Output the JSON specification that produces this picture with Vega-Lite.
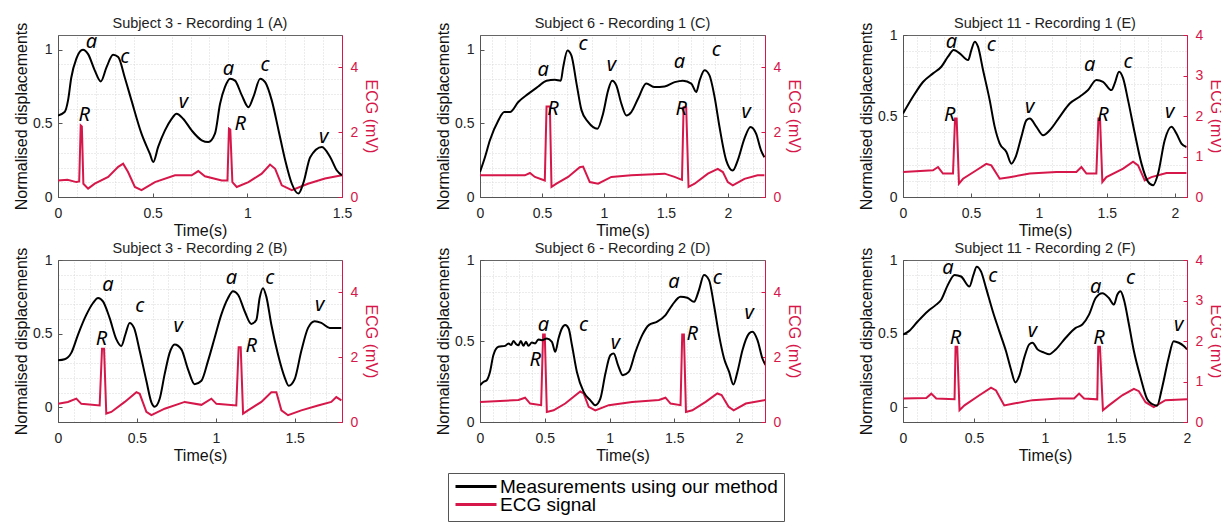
{
"$schema": "https://vega.github.io/schema/vega-lite/v6.json",
"padding": {"left": 13, "top": 15, "right": 0, "bottom": 0},
"columns": 3,
"spacing": {"row": 63, "column": 138},
"bounds": "flush",
"datasets": {
"dA": [{"t":0,"v":0.554},{"t":0.035,"v":0.577},{"t":0.053,"v":0.656},{"t":0.07,"v":0.81},{"t":0.097,"v":0.94},{"t":0.132,"v":1.0},{"t":0.159,"v":0.97},{"t":0.194,"v":0.86},{"t":0.226,"v":0.785},{"t":0.256,"v":0.88},{"t":0.291,"v":0.966},{"t":0.318,"v":0.95},{"t":0.353,"v":0.81},{"t":0.388,"v":0.656},{"t":0.441,"v":0.43},{"t":0.485,"v":0.294},{"t":0.503,"v":0.238},{"t":0.529,"v":0.34},{"t":0.565,"v":0.452},{"t":0.6,"v":0.53},{"t":0.626,"v":0.566},{"t":0.662,"v":0.53},{"t":0.706,"v":0.452},{"t":0.759,"v":0.385},{"t":0.794,"v":0.373},{"t":0.829,"v":0.43},{"t":0.856,"v":0.633},{"t":0.882,"v":0.747},{"t":0.909,"v":0.803},{"t":0.935,"v":0.79},{"t":0.971,"v":0.69},{"t":1.006,"v":0.61},{"t":1.032,"v":0.68},{"t":1.068,"v":0.803},{"t":1.094,"v":0.78},{"t":1.129,"v":0.656},{"t":1.165,"v":0.452},{"t":1.2,"v":0.249},{"t":1.235,"v":0.09},{"t":1.27,"v":0.023},{"t":1.297,"v":0.1},{"t":1.332,"v":0.27},{"t":1.394,"v":0.34},{"t":1.438,"v":0.27},{"t":1.473,"v":0.18},{"t":1.5,"v":0.147}],
"eA": [{"t":0,"mv":0.51},{"t":0.05,"mv":0.53},{"t":0.097,"mv":0.46},{"t":0.112,"mv":0.48},{"t":0.12,"mv":2.21},{"t":0.126,"mv":2.18},{"t":0.134,"mv":0.41},{"t":0.159,"mv":0.26},{"t":0.194,"mv":0.41},{"t":0.265,"mv":0.62},{"t":0.318,"mv":0.93},{"t":0.344,"mv":1.03},{"t":0.37,"mv":0.77},{"t":0.406,"mv":0.31},{"t":0.441,"mv":0.21},{"t":0.512,"mv":0.46},{"t":0.618,"mv":0.67},{"t":0.706,"mv":0.67},{"t":0.741,"mv":0.8},{"t":0.776,"mv":0.64},{"t":0.865,"mv":0.51},{"t":0.895,"mv":0.51},{"t":0.903,"mv":2.11},{"t":0.91,"mv":2.08},{"t":0.921,"mv":0.46},{"t":0.944,"mv":0.31},{"t":1.006,"mv":0.46},{"t":1.076,"mv":0.72},{"t":1.12,"mv":1.0},{"t":1.147,"mv":0.87},{"t":1.182,"mv":0.36},{"t":1.235,"mv":0.21},{"t":1.32,"mv":0.41},{"t":1.41,"mv":0.57},{"t":1.5,"mv":0.67}],
"lA": [{"t":0.176,"v":1.05,"s":"a"},{"t":0.353,"v":0.95,"s":"c"},{"t":0.662,"v":0.645,"s":"v"},{"t":0.138,"v":0.554,"s":"R"},{"t":0.9,"v":0.87,"s":"a"},{"t":1.094,"v":0.894,"s":"c"},{"t":0.962,"v":0.498,"s":"R"},{"t":1.403,"v":0.407,"s":"v"}],
"dC": [{"t":0,"v":0.17},{"t":0.04,"v":0.27},{"t":0.08,"v":0.385},{"t":0.148,"v":0.52},{"t":0.196,"v":0.577},{"t":0.242,"v":0.577},{"t":0.309,"v":0.645},{"t":0.389,"v":0.7},{"t":0.47,"v":0.75},{"t":0.537,"v":0.79},{"t":0.604,"v":0.796},{"t":0.652,"v":0.79},{"t":0.671,"v":0.88},{"t":0.706,"v":0.995},{"t":0.738,"v":0.96},{"t":0.779,"v":0.77},{"t":0.819,"v":0.59},{"t":0.872,"v":0.51},{"t":0.948,"v":0.464},{"t":0.993,"v":0.566},{"t":1.034,"v":0.724},{"t":1.066,"v":0.79},{"t":1.1,"v":0.758},{"t":1.141,"v":0.633},{"t":1.181,"v":0.554},{"t":1.221,"v":0.577},{"t":1.275,"v":0.667},{"t":1.342,"v":0.77},{"t":1.409,"v":0.747},{"t":1.49,"v":0.751},{"t":1.571,"v":0.78},{"t":1.638,"v":0.79},{"t":1.705,"v":0.77},{"t":1.745,"v":0.713},{"t":1.772,"v":0.79},{"t":1.812,"v":0.86},{"t":1.852,"v":0.826},{"t":1.893,"v":0.68},{"t":1.933,"v":0.475},{"t":1.987,"v":0.249},{"t":2.04,"v":0.18},{"t":2.08,"v":0.249},{"t":2.134,"v":0.396},{"t":2.183,"v":0.475},{"t":2.228,"v":0.43},{"t":2.268,"v":0.317},{"t":2.295,"v":0.27}],
"eC": [{"t":0,"mv":0.67},{"t":0.362,"mv":0.67},{"t":0.403,"mv":0.74},{"t":0.443,"mv":0.62},{"t":0.523,"mv":0.51},{"t":0.537,"mv":2.79},{"t":0.564,"mv":2.79},{"t":0.577,"mv":0.31},{"t":0.617,"mv":0.41},{"t":0.711,"mv":0.62},{"t":0.805,"mv":0.92},{"t":0.832,"mv":0.94},{"t":0.886,"mv":0.46},{"t":0.953,"mv":0.41},{"t":1.06,"mv":0.62},{"t":1.22,"mv":0.67},{"t":1.49,"mv":0.72},{"t":1.57,"mv":0.62},{"t":1.63,"mv":0.53},{"t":1.643,"mv":2.77},{"t":1.664,"mv":2.77},{"t":1.683,"mv":0.31},{"t":1.732,"mv":0.41},{"t":1.839,"mv":0.72},{"t":1.919,"mv":0.87},{"t":1.96,"mv":0.77},{"t":2.0,"mv":0.46},{"t":2.04,"mv":0.36},{"t":2.134,"mv":0.56},{"t":2.24,"mv":0.67},{"t":2.295,"mv":0.67}],
"lC": [{"t":0.51,"v":0.86,"s":"a"},{"t":0.832,"v":1.04,"s":"c"},{"t":1.06,"v":0.894,"s":"v"},{"t":0.59,"v":0.6,"s":"R"},{"t":1.61,"v":0.916,"s":"a"},{"t":1.906,"v":0.995,"s":"c"},{"t":1.624,"v":0.6,"s":"R"},{"t":2.148,"v":0.577,"s":"v"}],
"dE": [{"t":0,"v":0.515},{"t":0.074,"v":0.62},{"t":0.147,"v":0.71},{"t":0.221,"v":0.763},{"t":0.282,"v":0.804},{"t":0.331,"v":0.866},{"t":0.373,"v":0.907},{"t":0.417,"v":0.887},{"t":0.479,"v":0.845},{"t":0.503,"v":0.907},{"t":0.528,"v":0.959},{"t":0.552,"v":0.928},{"t":0.589,"v":0.784},{"t":0.638,"v":0.598},{"t":0.675,"v":0.433},{"t":0.712,"v":0.33},{"t":0.761,"v":0.278},{"t":0.798,"v":0.206},{"t":0.829,"v":0.247},{"t":0.871,"v":0.371},{"t":0.908,"v":0.474},{"t":0.933,"v":0.485},{"t":0.982,"v":0.433},{"t":1.031,"v":0.381},{"t":1.08,"v":0.412},{"t":1.153,"v":0.495},{"t":1.227,"v":0.577},{"t":1.3,"v":0.619},{"t":1.362,"v":0.66},{"t":1.423,"v":0.722},{"t":1.472,"v":0.711},{"t":1.534,"v":0.66},{"t":1.558,"v":0.701},{"t":1.59,"v":0.773},{"t":1.62,"v":0.732},{"t":1.656,"v":0.598},{"t":1.706,"v":0.392},{"t":1.755,"v":0.206},{"t":1.804,"v":0.093},{"t":1.84,"v":0.072},{"t":1.877,"v":0.144},{"t":1.926,"v":0.35},{"t":1.975,"v":0.433},{"t":2.012,"v":0.392},{"t":2.049,"v":0.33},{"t":2.086,"v":0.309}],
"eE": [{"t":0,"mv":0.62},{"t":0.221,"mv":0.66},{"t":0.258,"mv":0.74},{"t":0.294,"mv":0.58},{"t":0.368,"mv":0.58},{"t":0.383,"mv":1.94},{"t":0.395,"mv":1.94},{"t":0.412,"mv":0.33},{"t":0.442,"mv":0.45},{"t":0.54,"mv":0.66},{"t":0.613,"mv":0.82},{"t":0.65,"mv":0.78},{"t":0.712,"mv":0.45},{"t":0.785,"mv":0.49},{"t":0.933,"mv":0.58},{"t":1.129,"mv":0.62},{"t":1.276,"mv":0.62},{"t":1.313,"mv":0.74},{"t":1.35,"mv":0.58},{"t":1.423,"mv":0.58},{"t":1.438,"mv":1.94},{"t":1.45,"mv":1.94},{"t":1.467,"mv":0.37},{"t":1.497,"mv":0.49},{"t":1.62,"mv":0.7},{"t":1.693,"mv":0.87},{"t":1.73,"mv":0.78},{"t":1.779,"mv":0.41},{"t":1.828,"mv":0.49},{"t":1.939,"mv":0.59},{"t":2.086,"mv":0.59}],
"lE": [{"t":0.356,"v":0.959,"s":"a"},{"t":0.65,"v":0.938,"s":"c"},{"t":0.933,"v":0.557,"s":"v"},{"t":0.344,"v":0.505,"s":"R"},{"t":1.374,"v":0.814,"s":"a"},{"t":1.656,"v":0.835,"s":"c"},{"t":1.472,"v":0.505,"s":"R"},{"t":1.963,"v":0.526,"s":"v"}],
"dB": [{"t":0,"v":0.319},{"t":0.042,"v":0.326},{"t":0.085,"v":0.371},{"t":0.127,"v":0.494},{"t":0.18,"v":0.629},{"t":0.222,"v":0.708},{"t":0.254,"v":0.742},{"t":0.285,"v":0.719},{"t":0.327,"v":0.607},{"t":0.37,"v":0.461},{"t":0.401,"v":0.416},{"t":0.427,"v":0.494},{"t":0.454,"v":0.573},{"t":0.482,"v":0.539},{"t":0.518,"v":0.382},{"t":0.56,"v":0.18},{"t":0.592,"v":0.034},{"t":0.613,"v":0.004},{"t":0.644,"v":0.056},{"t":0.676,"v":0.225},{"t":0.708,"v":0.371},{"t":0.739,"v":0.427},{"t":0.782,"v":0.393},{"t":0.824,"v":0.258},{"t":0.866,"v":0.157},{"t":0.909,"v":0.18},{"t":0.951,"v":0.315},{"t":0.993,"v":0.472},{"t":1.035,"v":0.629},{"t":1.078,"v":0.742},{"t":1.109,"v":0.787},{"t":1.141,"v":0.764},{"t":1.183,"v":0.652},{"t":1.225,"v":0.566},{"t":1.257,"v":0.593},{"t":1.278,"v":0.742},{"t":1.299,"v":0.809},{"t":1.32,"v":0.753},{"t":1.352,"v":0.562},{"t":1.394,"v":0.36},{"t":1.437,"v":0.202},{"t":1.462,"v":0.146},{"t":1.5,"v":0.191},{"t":1.542,"v":0.382},{"t":1.585,"v":0.539},{"t":1.627,"v":0.584},{"t":1.669,"v":0.573},{"t":1.722,"v":0.539},{"t":1.796,"v":0.539}],
"eB": [{"t":0,"mv":0.56},{"t":0.063,"mv":0.62},{"t":0.116,"mv":0.72},{"t":0.148,"mv":0.56},{"t":0.264,"mv":0.51},{"t":0.279,"mv":2.26},{"t":0.292,"mv":2.26},{"t":0.306,"mv":0.26},{"t":0.338,"mv":0.31},{"t":0.423,"mv":0.62},{"t":0.497,"mv":0.92},{"t":0.518,"mv":0.87},{"t":0.56,"mv":0.31},{"t":0.592,"mv":0.21},{"t":0.676,"mv":0.41},{"t":0.803,"mv":0.62},{"t":0.909,"mv":0.53},{"t":0.972,"mv":0.72},{"t":1.004,"mv":0.56},{"t":1.13,"mv":0.51},{"t":1.145,"mv":2.31},{"t":1.158,"mv":2.31},{"t":1.173,"mv":0.26},{"t":1.204,"mv":0.36},{"t":1.289,"mv":0.62},{"t":1.352,"mv":0.92},{"t":1.384,"mv":0.92},{"t":1.416,"mv":0.36},{"t":1.458,"mv":0.21},{"t":1.542,"mv":0.36},{"t":1.648,"mv":0.51},{"t":1.732,"mv":0.62},{"t":1.764,"mv":0.77},{"t":1.796,"mv":0.67}],
"lB": [{"t":0.317,"v":0.831,"s":"a"},{"t":0.518,"v":0.685,"s":"c"},{"t":0.761,"v":0.55,"s":"v"},{"t":0.275,"v":0.461,"s":"R"},{"t":1.099,"v":0.876,"s":"a"},{"t":1.342,"v":0.876,"s":"c"},{"t":1.225,"v":0.416,"s":"R"},{"t":1.658,"v":0.697,"s":"v"}],
"dD": [{"t":0,"v":0.227},{"t":0.026,"v":0.247},{"t":0.052,"v":0.258},{"t":0.077,"v":0.309},{"t":0.103,"v":0.412},{"t":0.142,"v":0.464},{"t":0.194,"v":0.47},{"t":0.22,"v":0.485},{"t":0.24,"v":0.475},{"t":0.258,"v":0.5},{"t":0.28,"v":0.48},{"t":0.297,"v":0.474},{"t":0.315,"v":0.5},{"t":0.335,"v":0.47},{"t":0.355,"v":0.495},{"t":0.374,"v":0.47},{"t":0.4,"v":0.49},{"t":0.426,"v":0.485},{"t":0.45,"v":0.51},{"t":0.477,"v":0.505},{"t":0.516,"v":0.515},{"t":0.555,"v":0.495},{"t":0.581,"v":0.433},{"t":0.606,"v":0.515},{"t":0.632,"v":0.577},{"t":0.658,"v":0.598},{"t":0.684,"v":0.577},{"t":0.71,"v":0.474},{"t":0.748,"v":0.309},{"t":0.8,"v":0.186},{"t":0.852,"v":0.134},{"t":0.89,"v":0.103},{"t":0.929,"v":0.144},{"t":0.968,"v":0.299},{"t":1.006,"v":0.412},{"t":1.032,"v":0.423},{"t":1.066,"v":0.35},{"t":1.102,"v":0.289},{"t":1.148,"v":0.309},{"t":1.2,"v":0.433},{"t":1.252,"v":0.536},{"t":1.303,"v":0.598},{"t":1.368,"v":0.619},{"t":1.432,"v":0.66},{"t":1.484,"v":0.722},{"t":1.548,"v":0.773},{"t":1.6,"v":0.767},{"t":1.652,"v":0.742},{"t":1.69,"v":0.814},{"t":1.729,"v":0.907},{"t":1.768,"v":0.876},{"t":1.806,"v":0.722},{"t":1.845,"v":0.536},{"t":1.884,"v":0.392},{"t":1.923,"v":0.309},{"t":1.956,"v":0.231},{"t":1.987,"v":0.309},{"t":2.026,"v":0.443},{"t":2.077,"v":0.546},{"t":2.103,"v":0.557},{"t":2.142,"v":0.505},{"t":2.18,"v":0.392},{"t":2.206,"v":0.35}],
"eD": [{"t":0,"mv":0.62},{"t":0.297,"mv":0.68},{"t":0.348,"mv":0.75},{"t":0.387,"mv":0.57},{"t":0.472,"mv":0.52},{"t":0.487,"mv":2.7},{"t":0.5,"mv":2.7},{"t":0.516,"mv":0.31},{"t":0.568,"mv":0.36},{"t":0.658,"mv":0.57},{"t":0.774,"mv":0.94},{"t":0.8,"mv":0.88},{"t":0.839,"mv":0.47},{"t":0.89,"mv":0.36},{"t":0.994,"mv":0.52},{"t":1.174,"mv":0.62},{"t":1.381,"mv":0.68},{"t":1.432,"mv":0.75},{"t":1.471,"mv":0.57},{"t":1.548,"mv":0.52},{"t":1.561,"mv":2.7},{"t":1.574,"mv":2.7},{"t":1.59,"mv":0.31},{"t":1.639,"mv":0.36},{"t":1.742,"mv":0.62},{"t":1.832,"mv":0.88},{"t":1.865,"mv":0.83},{"t":1.919,"mv":0.47},{"t":1.958,"mv":0.36},{"t":2.052,"mv":0.57},{"t":2.206,"mv":0.68}],
"lD": [{"t":0.49,"v":0.598,"s":"a"},{"t":0.8,"v":0.598,"s":"c"},{"t":1.045,"v":0.485,"s":"v"},{"t":0.426,"v":0.381,"s":"R"},{"t":1.497,"v":0.866,"s":"a"},{"t":1.832,"v":0.887,"s":"c"},{"t":1.639,"v":0.546,"s":"R"},{"t":2.077,"v":0.67,"s":"v"}],
"dF": [{"t":0,"v":0.494},{"t":0.042,"v":0.517},{"t":0.105,"v":0.584},{"t":0.175,"v":0.652},{"t":0.234,"v":0.697},{"t":0.269,"v":0.73},{"t":0.316,"v":0.831},{"t":0.363,"v":0.899},{"t":0.409,"v":0.888},{"t":0.468,"v":0.82},{"t":0.496,"v":0.899},{"t":0.519,"v":0.955},{"t":0.55,"v":0.921},{"t":0.585,"v":0.809},{"t":0.632,"v":0.652},{"t":0.678,"v":0.517},{"t":0.725,"v":0.382},{"t":0.76,"v":0.258},{"t":0.791,"v":0.169},{"t":0.819,"v":0.213},{"t":0.854,"v":0.337},{"t":0.889,"v":0.427},{"t":0.912,"v":0.438},{"t":0.947,"v":0.393},{"t":0.994,"v":0.371},{"t":1.029,"v":0.36},{"t":1.076,"v":0.393},{"t":1.146,"v":0.472},{"t":1.216,"v":0.539},{"t":1.263,"v":0.562},{"t":1.31,"v":0.629},{"t":1.357,"v":0.742},{"t":1.404,"v":0.775},{"t":1.45,"v":0.742},{"t":1.485,"v":0.697},{"t":1.509,"v":0.764},{"t":1.532,"v":0.787},{"t":1.556,"v":0.73},{"t":1.591,"v":0.562},{"t":1.626,"v":0.382},{"t":1.673,"v":0.202},{"t":1.719,"v":0.056},{"t":1.754,"v":0.022},{"t":1.789,"v":0.011},{"t":1.825,"v":0.135},{"t":1.871,"v":0.337},{"t":1.906,"v":0.449},{"t":1.942,"v":0.438},{"t":1.977,"v":0.416},{"t":2.0,"v":0.393}],
"eF": [{"t":0,"mv":0.58},{"t":0.164,"mv":0.59},{"t":0.199,"mv":0.7},{"t":0.234,"mv":0.58},{"t":0.363,"mv":0.56},{"t":0.37,"mv":1.86},{"t":0.382,"mv":1.86},{"t":0.398,"mv":0.29},{"t":0.433,"mv":0.41},{"t":0.538,"mv":0.66},{"t":0.62,"mv":0.85},{"t":0.655,"mv":0.78},{"t":0.713,"mv":0.41},{"t":0.772,"mv":0.45},{"t":0.912,"mv":0.54},{"t":1.099,"mv":0.58},{"t":1.205,"mv":0.58},{"t":1.24,"mv":0.7},{"t":1.275,"mv":0.58},{"t":1.368,"mv":0.56},{"t":1.375,"mv":1.86},{"t":1.387,"mv":1.86},{"t":1.408,"mv":0.29},{"t":1.45,"mv":0.41},{"t":1.544,"mv":0.66},{"t":1.626,"mv":0.82},{"t":1.661,"mv":0.76},{"t":1.708,"mv":0.49},{"t":1.766,"mv":0.37},{"t":1.848,"mv":0.54},{"t":2.0,"mv":0.56}],
"lF": [{"t":0.316,"v":0.944,"s":"a"},{"t":0.632,"v":0.888,"s":"c"},{"t":0.912,"v":0.517,"s":"v"},{"t":0.37,"v":0.472,"s":"R"},{"t":1.357,"v":0.82,"s":"a"},{"t":1.602,"v":0.876,"s":"c"},{"t":1.38,"v":0.472,"s":"R"},{"t":1.942,"v":0.562,"s":"v"}]
},
"concat": [
{"width": 284, "height": 162, "title": "Subject 3 - Recording 1 (A)",
 "layer": [
  {"data": {"name": "eA"}, "mark": {"type": "line", "strokeWidth": 2, "clip": true},
   "encoding": {"x": {"field": "t", "type": "quantitative", "scale": {"domain": [0, 1.5], "nice": false, "zero": false}, "axis": null},
    "y": {"field": "mv", "type": "quantitative", "scale": {"domain": [0, 5], "nice": false, "zero": false}, "axis": {"orient": "right", "title": "ECG (mV)", "values": [0, 2, 4]}},
    "color": {"datum": "ECG signal", "type": "nominal", "scale": {"domain": ["Measurements using our method", "ECG signal"], "range": ["#000000", "#d6174a"]}, "legend": {"orient": "none", "legendX": 390, "legendY": 438, "title": null}}}},
  {"data": {"name": "dA"}, "mark": {"type": "line", "strokeWidth": 2, "interpolate": "monotone", "clip": true},
   "encoding": {"x": {"field": "t", "type": "quantitative", "scale": {"domain": [0, 1.5], "nice": false, "zero": false}, "axis": {"orient": "bottom", "title": "Time(s)", "values": [0, 0.5, 1, 1.5], "format": "~g"}},
    "y": {"field": "v", "type": "quantitative", "scale": {"domain": [0, 1.1], "nice": false, "zero": false}, "axis": {"orient": "left", "title": "Normalised displacements", "values": [0, 0.5, 1], "format": "~g"}},
    "color": {"datum": "Measurements using our method", "type": "nominal", "scale": {"domain": ["Measurements using our method", "ECG signal"], "range": ["#000000", "#d6174a"]}, "legend": {"orient": "none", "legendX": 390, "legendY": 438, "title": null}}}},
  {"data": {"name": "lA"}, "mark": {"type": "text", "font": "Noto Sans", "fontStyle": "italic", "fontSize": 20, "color": "#000000", "align": "center", "baseline": "middle"},
   "encoding": {"x": {"field": "t", "type": "quantitative", "scale": {"domain": [0, 1.5], "nice": false, "zero": false}, "axis": {"orient": "top", "values": [0.1,0.2,0.3,0.4,0.6,0.7,0.8,0.9,1.1,1.2,1.3,1.4], "labels": false, "ticks": false, "domain": false, "title": null, "grid": true, "gridDash": [1, 2]}},
    "y": {"field": "v", "type": "quantitative", "scale": {"domain": [0, 1.1], "nice": false, "zero": false}, "axis": {"orient": "left", "values": [0.1,0.2,0.3,0.4,0.6,0.7,0.8,0.9], "labels": false, "ticks": false, "domain": false, "title": null, "grid": true, "gridDash": [1, 2]}},
    "text": {"field": "s"}}}
 ],
 "resolve": {"scale": {"x": "independent", "y": "independent"}}},
{"width": 285, "height": 162, "title": "Subject 6 - Recording 1 (C)",
 "layer": [
  {"data": {"name": "eC"}, "mark": {"type": "line", "strokeWidth": 2, "clip": true},
   "encoding": {"x": {"field": "t", "type": "quantitative", "scale": {"domain": [0, 2.3], "nice": false, "zero": false}, "axis": null},
    "y": {"field": "mv", "type": "quantitative", "scale": {"domain": [0, 5], "nice": false, "zero": false}, "axis": {"orient": "right", "title": "ECG (mV)", "values": [0, 2, 4]}},
    "color": {"datum": "ECG signal", "type": "nominal", "scale": {"domain": ["Measurements using our method", "ECG signal"], "range": ["#000000", "#d6174a"]}, "legend": {"orient": "none", "legendX": 390, "legendY": 438, "title": null}}}},
  {"data": {"name": "dC"}, "mark": {"type": "line", "strokeWidth": 2, "interpolate": "monotone", "clip": true},
   "encoding": {"x": {"field": "t", "type": "quantitative", "scale": {"domain": [0, 2.3], "nice": false, "zero": false}, "axis": {"orient": "bottom", "title": "Time(s)", "values": [0, 0.5, 1, 1.5, 2], "format": "~g"}},
    "y": {"field": "v", "type": "quantitative", "scale": {"domain": [0, 1.1], "nice": false, "zero": false}, "axis": {"orient": "left", "title": "Normalised displacements", "values": [0, 0.5, 1], "format": "~g"}},
    "color": {"datum": "Measurements using our method", "type": "nominal", "scale": {"domain": ["Measurements using our method", "ECG signal"], "range": ["#000000", "#d6174a"]}, "legend": {"orient": "none", "legendX": 390, "legendY": 438, "title": null}}}},
  {"data": {"name": "lC"}, "mark": {"type": "text", "font": "Noto Sans", "fontStyle": "italic", "fontSize": 20, "color": "#000000", "align": "center", "baseline": "middle"},
   "encoding": {"x": {"field": "t", "type": "quantitative", "scale": {"domain": [0, 2.3], "nice": false, "zero": false}, "axis": {"orient": "top", "values": [0.1,0.2,0.3,0.4,0.6,0.7,0.8,0.9,1.1,1.2,1.3,1.4,1.6,1.7,1.8,1.9,2.1,2.2], "labels": false, "ticks": false, "domain": false, "title": null, "grid": true, "gridDash": [1, 2]}},
    "y": {"field": "v", "type": "quantitative", "scale": {"domain": [0, 1.1], "nice": false, "zero": false}, "axis": {"orient": "left", "values": [0.1,0.2,0.3,0.4,0.6,0.7,0.8,0.9], "labels": false, "ticks": false, "domain": false, "title": null, "grid": true, "gridDash": [1, 2]}},
    "text": {"field": "s"}}}
 ],
 "resolve": {"scale": {"x": "independent", "y": "independent"}}},
{"width": 284, "height": 162, "title": "Subject 11 - Recording 1 (E)",
 "layer": [
  {"data": {"name": "eE"}, "mark": {"type": "line", "strokeWidth": 2, "clip": true},
   "encoding": {"x": {"field": "t", "type": "quantitative", "scale": {"domain": [0, 2.09], "nice": false, "zero": false}, "axis": null},
    "y": {"field": "mv", "type": "quantitative", "scale": {"domain": [0, 4], "nice": false, "zero": false}, "axis": {"orient": "right", "title": "ECG (mV)", "values": [0, 1, 2, 3, 4]}},
    "color": {"datum": "ECG signal", "type": "nominal", "scale": {"domain": ["Measurements using our method", "ECG signal"], "range": ["#000000", "#d6174a"]}, "legend": {"orient": "none", "legendX": 390, "legendY": 438, "title": null}}}},
  {"data": {"name": "dE"}, "mark": {"type": "line", "strokeWidth": 2, "interpolate": "monotone", "clip": true},
   "encoding": {"x": {"field": "t", "type": "quantitative", "scale": {"domain": [0, 2.09], "nice": false, "zero": false}, "axis": {"orient": "bottom", "title": "Time(s)", "values": [0, 0.5, 1, 1.5, 2], "format": "~g"}},
    "y": {"field": "v", "type": "quantitative", "scale": {"domain": [0, 1], "nice": false, "zero": false}, "axis": {"orient": "left", "title": "Normalised displacements", "values": [0, 0.5, 1], "format": "~g"}},
    "color": {"datum": "Measurements using our method", "type": "nominal", "scale": {"domain": ["Measurements using our method", "ECG signal"], "range": ["#000000", "#d6174a"]}, "legend": {"orient": "none", "legendX": 390, "legendY": 438, "title": null}}}},
  {"data": {"name": "lE"}, "mark": {"type": "text", "font": "Noto Sans", "fontStyle": "italic", "fontSize": 20, "color": "#000000", "align": "center", "baseline": "middle"},
   "encoding": {"x": {"field": "t", "type": "quantitative", "scale": {"domain": [0, 2.09], "nice": false, "zero": false}, "axis": {"orient": "top", "values": [0.1,0.2,0.3,0.4,0.6,0.7,0.8,0.9,1.1,1.2,1.3,1.4,1.6,1.7,1.8,1.9], "labels": false, "ticks": false, "domain": false, "title": null, "grid": true, "gridDash": [1, 2]}},
    "y": {"field": "v", "type": "quantitative", "scale": {"domain": [0, 1], "nice": false, "zero": false}, "axis": {"orient": "left", "values": [0.1,0.2,0.3,0.4,0.6,0.7,0.8,0.9], "labels": false, "ticks": false, "domain": false, "title": null, "grid": true, "gridDash": [1, 2]}},
    "text": {"field": "s"}}}
 ],
 "resolve": {"scale": {"x": "independent", "y": "independent"}}},
{"width": 284, "height": 162, "title": "Subject 3 - Recording 2 (B)",
 "layer": [
  {"data": {"name": "eB"}, "mark": {"type": "line", "strokeWidth": 2, "clip": true},
   "encoding": {"x": {"field": "t", "type": "quantitative", "scale": {"domain": [0, 1.8], "nice": false, "zero": false}, "axis": null},
    "y": {"field": "mv", "type": "quantitative", "scale": {"domain": [0, 5], "nice": false, "zero": false}, "axis": {"orient": "right", "title": "ECG (mV)", "values": [0, 2, 4]}},
    "color": {"datum": "ECG signal", "type": "nominal", "scale": {"domain": ["Measurements using our method", "ECG signal"], "range": ["#000000", "#d6174a"]}, "legend": {"orient": "none", "legendX": 390, "legendY": 438, "title": null}}}},
  {"data": {"name": "dB"}, "mark": {"type": "line", "strokeWidth": 2, "interpolate": "monotone", "clip": true},
   "encoding": {"x": {"field": "t", "type": "quantitative", "scale": {"domain": [0, 1.8], "nice": false, "zero": false}, "axis": {"orient": "bottom", "title": "Time(s)", "values": [0, 0.5, 1, 1.5], "format": "~g"}},
    "y": {"field": "v", "type": "quantitative", "scale": {"domain": [-0.1, 1], "nice": false, "zero": false}, "axis": {"orient": "left", "title": "Normalised displacements", "values": [0, 0.5, 1], "format": "~g"}},
    "color": {"datum": "Measurements using our method", "type": "nominal", "scale": {"domain": ["Measurements using our method", "ECG signal"], "range": ["#000000", "#d6174a"]}, "legend": {"orient": "none", "legendX": 390, "legendY": 438, "title": null}}}},
  {"data": {"name": "lB"}, "mark": {"type": "text", "font": "Noto Sans", "fontStyle": "italic", "fontSize": 20, "color": "#000000", "align": "center", "baseline": "middle"},
   "encoding": {"x": {"field": "t", "type": "quantitative", "scale": {"domain": [0, 1.8], "nice": false, "zero": false}, "axis": {"orient": "top", "values": [0.1,0.2,0.3,0.4,0.6,0.7,0.8,0.9,1.1,1.2,1.3,1.4,1.6,1.7], "labels": false, "ticks": false, "domain": false, "title": null, "grid": true, "gridDash": [1, 2]}},
    "y": {"field": "v", "type": "quantitative", "scale": {"domain": [-0.1, 1], "nice": false, "zero": false}, "axis": {"orient": "left", "values": [0.1,0.2,0.3,0.4,0.6,0.7,0.8,0.9], "labels": false, "ticks": false, "domain": false, "title": null, "grid": true, "gridDash": [1, 2]}},
    "text": {"field": "s"}}}
 ],
 "resolve": {"scale": {"x": "independent", "y": "independent"}}},
{"width": 285, "height": 162, "title": "Subject 6 - Recording 2 (D)",
 "layer": [
  {"data": {"name": "eD"}, "mark": {"type": "line", "strokeWidth": 2, "clip": true},
   "encoding": {"x": {"field": "t", "type": "quantitative", "scale": {"domain": [0, 2.2], "nice": false, "zero": false}, "axis": null},
    "y": {"field": "mv", "type": "quantitative", "scale": {"domain": [0, 5], "nice": false, "zero": false}, "axis": {"orient": "right", "title": "ECG (mV)", "values": [0, 2, 4]}},
    "color": {"datum": "ECG signal", "type": "nominal", "scale": {"domain": ["Measurements using our method", "ECG signal"], "range": ["#000000", "#d6174a"]}, "legend": {"orient": "none", "legendX": 390, "legendY": 438, "title": null}}}},
  {"data": {"name": "dD"}, "mark": {"type": "line", "strokeWidth": 2, "interpolate": "monotone", "clip": true},
   "encoding": {"x": {"field": "t", "type": "quantitative", "scale": {"domain": [0, 2.2], "nice": false, "zero": false}, "axis": {"orient": "bottom", "title": "Time(s)", "values": [0, 0.5, 1, 1.5, 2], "format": "~g"}},
    "y": {"field": "v", "type": "quantitative", "scale": {"domain": [0, 1], "nice": false, "zero": false}, "axis": {"orient": "left", "title": "Normalised displacements", "values": [0, 0.5, 1], "format": "~g"}},
    "color": {"datum": "Measurements using our method", "type": "nominal", "scale": {"domain": ["Measurements using our method", "ECG signal"], "range": ["#000000", "#d6174a"]}, "legend": {"orient": "none", "legendX": 390, "legendY": 438, "title": null}}}},
  {"data": {"name": "lD"}, "mark": {"type": "text", "font": "Noto Sans", "fontStyle": "italic", "fontSize": 20, "color": "#000000", "align": "center", "baseline": "middle"},
   "encoding": {"x": {"field": "t", "type": "quantitative", "scale": {"domain": [0, 2.2], "nice": false, "zero": false}, "axis": {"orient": "top", "values": [0.1,0.2,0.3,0.4,0.6,0.7,0.8,0.9,1.1,1.2,1.3,1.4,1.6,1.7,1.8,1.9,2.1], "labels": false, "ticks": false, "domain": false, "title": null, "grid": true, "gridDash": [1, 2]}},
    "y": {"field": "v", "type": "quantitative", "scale": {"domain": [0, 1], "nice": false, "zero": false}, "axis": {"orient": "left", "values": [0.1,0.2,0.3,0.4,0.6,0.7,0.8,0.9], "labels": false, "ticks": false, "domain": false, "title": null, "grid": true, "gridDash": [1, 2]}},
    "text": {"field": "s"}}}
 ],
 "resolve": {"scale": {"x": "independent", "y": "independent"}}},
{"width": 284, "height": 162, "title": "Subject 11 - Recording 2 (F)",
 "layer": [
  {"data": {"name": "eF"}, "mark": {"type": "line", "strokeWidth": 2, "clip": true},
   "encoding": {"x": {"field": "t", "type": "quantitative", "scale": {"domain": [0, 2], "nice": false, "zero": false}, "axis": null},
    "y": {"field": "mv", "type": "quantitative", "scale": {"domain": [0, 4], "nice": false, "zero": false}, "axis": {"orient": "right", "title": "ECG (mV)", "values": [0, 1, 2, 3, 4]}},
    "color": {"datum": "ECG signal", "type": "nominal", "scale": {"domain": ["Measurements using our method", "ECG signal"], "range": ["#000000", "#d6174a"]}, "legend": {"orient": "none", "legendX": 390, "legendY": 438, "title": null}}}},
  {"data": {"name": "dF"}, "mark": {"type": "line", "strokeWidth": 2, "interpolate": "monotone", "clip": true},
   "encoding": {"x": {"field": "t", "type": "quantitative", "scale": {"domain": [0, 2], "nice": false, "zero": false}, "axis": {"orient": "bottom", "title": "Time(s)", "values": [0, 0.5, 1, 1.5, 2], "format": "~g"}},
    "y": {"field": "v", "type": "quantitative", "scale": {"domain": [-0.1, 1], "nice": false, "zero": false}, "axis": {"orient": "left", "title": "Normalised displacements", "values": [0, 0.5, 1], "format": "~g"}},
    "color": {"datum": "Measurements using our method", "type": "nominal", "scale": {"domain": ["Measurements using our method", "ECG signal"], "range": ["#000000", "#d6174a"]}, "legend": {"orient": "none", "legendX": 390, "legendY": 438, "title": null}}}},
  {"data": {"name": "lF"}, "mark": {"type": "text", "font": "Noto Sans", "fontStyle": "italic", "fontSize": 20, "color": "#000000", "align": "center", "baseline": "middle"},
   "encoding": {"x": {"field": "t", "type": "quantitative", "scale": {"domain": [0, 2], "nice": false, "zero": false}, "axis": {"orient": "top", "values": [0.1,0.2,0.3,0.4,0.6,0.7,0.8,0.9,1.1,1.2,1.3,1.4,1.6,1.7,1.8,1.9], "labels": false, "ticks": false, "domain": false, "title": null, "grid": true, "gridDash": [1, 2]}},
    "y": {"field": "v", "type": "quantitative", "scale": {"domain": [-0.1, 1], "nice": false, "zero": false}, "axis": {"orient": "left", "values": [0.1,0.2,0.3,0.4,0.6,0.7,0.8,0.9], "labels": false, "ticks": false, "domain": false, "title": null, "grid": true, "gridDash": [1, 2]}},
    "text": {"field": "s"}}}
 ],
 "resolve": {"scale": {"x": "independent", "y": "independent"}}}
],
"config": {
 "font": "Liberation Sans",
 "view": {"stroke": "#666666", "strokeWidth": 1},
 "title": {"font": "Liberation Sans", "fontSize": 14.5, "fontWeight": "normal", "color": "#222222", "offset": -9.5, "anchor": "middle", "frame": "group", "baseline": "alphabetic"},
 "axis": {"labelFont": "Liberation Sans", "labelFontSize": 14, "labelColor": "#222222", "titleFont": "Liberation Sans", "titleFontSize": 16, "titleFontWeight": "normal", "titleColor": "#111111", "domainColor": "#555555", "tickColor": "#555555", "tickSize": -4, "labelPadding": 10, "titlePadding": 3, "grid": true, "gridColor": "#d8d8d8", "labelFlush": false, "labelOverlap": false},
 "axisX": {"labelPadding": 13, "titlePadding": 2},
 "axisRight": {"labelColor": "#d6174a", "titleColor": "#d6174a", "domainColor": "#d6174a", "tickColor": "#d6174a", "grid": false, "labelPadding": 12, "titlePadding": 5},
 "legend": {"symbolType": "stroke", "symbolSize": 1681, "symbolStrokeWidth": 3, "clipHeight": 15, "labelFont": "Liberation Sans", "labelFontSize": 19, "labelLimit": 400, "labelColor": "#000000", "strokeColor": "#555555", "fillColor": "#ffffff", "padding": 6, "labelOffset": 2, "rowPadding": -4, "direction": "vertical"}
}
}
